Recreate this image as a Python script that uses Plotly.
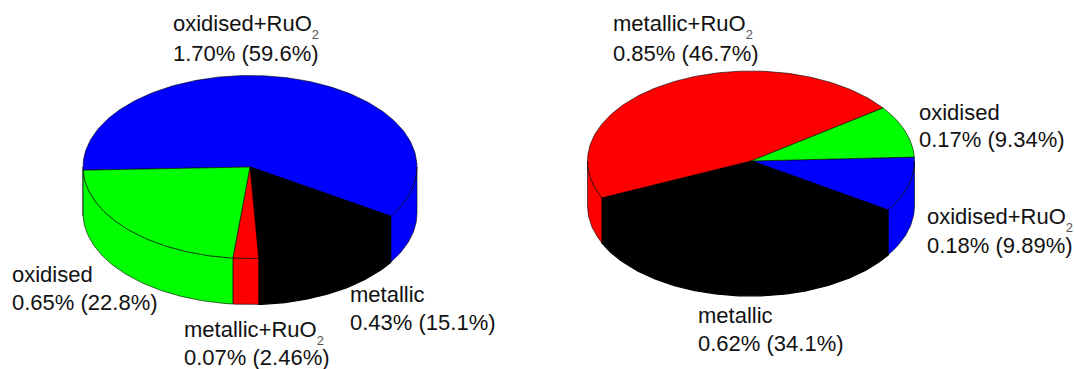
import math
import plotly.graph_objects as go

# Composition of the two samples, in slice order running clockwise
SUB2 = "<sub><sub><span style='font-size:13px;fill:#555555'>2</span></sub></sub>"
left_names = ["oxidised+RuO" + SUB2, "metallic", "metallic+RuO" + SUB2, "oxidised"]
left_amounts = [1.70, 0.43, 0.07, 0.65]
left_shares = [59.6, 15.1, 2.46, 22.8]
left_colors = ["#0000ff", "#000000", "#ff0000", "#00ff00"]

right_names = ["oxidised+RuO" + SUB2, "metallic", "metallic+RuO" + SUB2, "oxidised"]
right_amounts = [0.18, 0.62, 0.85, 0.17]
right_shares = [9.89, 34.1, 46.7, 9.34]
right_colors = ["#0000ff", "#000000", "#ff0000", "#00ff00"]

# (left edge, first baseline, second baseline) of each slice label
left_label_spots = [(173, 32, 62), (350, 303, 331), (184, 338, 366), (12, 283, 311)]
right_label_spots = [(927, 225, 254), (698, 324, 352), (613, 32, 62), (919, 121, 148)]

FONT = "Liberation Sans"
SIZE = 22


def edge(color):
    # Black slices get a heavier outline so top and wall read as one solid shape
    return dict(color="#000000", width=1.3 if color == "#000000" else 0.6)


def rim(cx, cy, rx, ry, a0, a1, drop=0.0):
    """Points along an elliptical arc; angles are clockwise from the top, in degrees."""
    n = max(2, int(abs(a1 - a0) / 1.0) + 1)
    angs = [a0 + (a1 - a0) * i / (n - 1) for i in range(n)]
    xs = [cx + rx * math.sin(math.radians(a)) for a in angs]
    ys = [cy - ry * math.cos(math.radians(a)) + drop for a in angs]
    return xs, ys


def add_pie(fig, shares, colors, start, cx, cy, apex, rx, ry, depth):
    total = sum(shares)
    spans = []
    a = start
    for s, c in zip(shares, colors):
        b = a + 360 * s / total
        spans.append((a, b, c))
        a = b

    # Wall of the disc: only the part of each slice on the near half shows
    for a0, a1, c in spans:
        for k in (0, 360):
            lo, hi = max(a0, 90 + k), min(a1, 270 + k)
            if hi <= lo:
                continue
            tx, ty = rim(cx, cy, rx, ry, lo, hi)
            bx, by = rim(cx, cy, rx, ry, hi, lo, depth)
            fig.add_trace(go.Scatter(x=tx + bx + tx[:1], y=ty + by + ty[:1], mode="lines",
                                     fill="toself", fillcolor=c, line=edge(c),
                                     hoverinfo="skip", showlegend=False))

    # Top face
    for a0, a1, c in spans:
        tx, ty = rim(cx, cy, rx, ry, a0, a1)
        fig.add_trace(go.Scatter(x=[cx] + tx + [cx], y=[apex] + ty + [apex], mode="lines",
                                 fill="toself", fillcolor=c, line=edge(c),
                                 hoverinfo="skip", showlegend=False))


def add_labels(fig, names, amounts, shares, spots):
    for name, amt, share, (x, y1, y2) in zip(names, amounts, shares, spots):
        value = f"{amt:.2f}% ({share:.3g}%)"
        for text, base in ((name, y1), (value, y2)):
            fig.add_annotation(x=x, y=base - 21, text=text, showarrow=False, xanchor="left",
                               yanchor="top", borderpad=0, borderwidth=0, xref="x", yref="y",
                               font=dict(family=FONT, size=SIZE, color="#111111"))


fig = go.Figure()
add_pie(fig, left_shares, left_colors, 268, 250, 167, 167, 167, 91.5, 46)
add_pie(fig, right_shares, right_colors, 87.5, 751, 161, 161, 163.5, 90, 45)
add_labels(fig, left_names, left_amounts, left_shares, left_label_spots)
add_labels(fig, right_names, right_amounts, right_shares, right_label_spots)

fig.update_layout(
    width=1074, height=369, margin=dict(l=0, r=0, t=0, b=0),
    paper_bgcolor="#ffffff", plot_bgcolor="#ffffff",
    xaxis=dict(range=[0, 1074], visible=False, fixedrange=True),
    yaxis=dict(range=[369, 0], visible=False, fixedrange=True),
)
fig.write_html("out.html", config=dict(displayModeBar=False))
